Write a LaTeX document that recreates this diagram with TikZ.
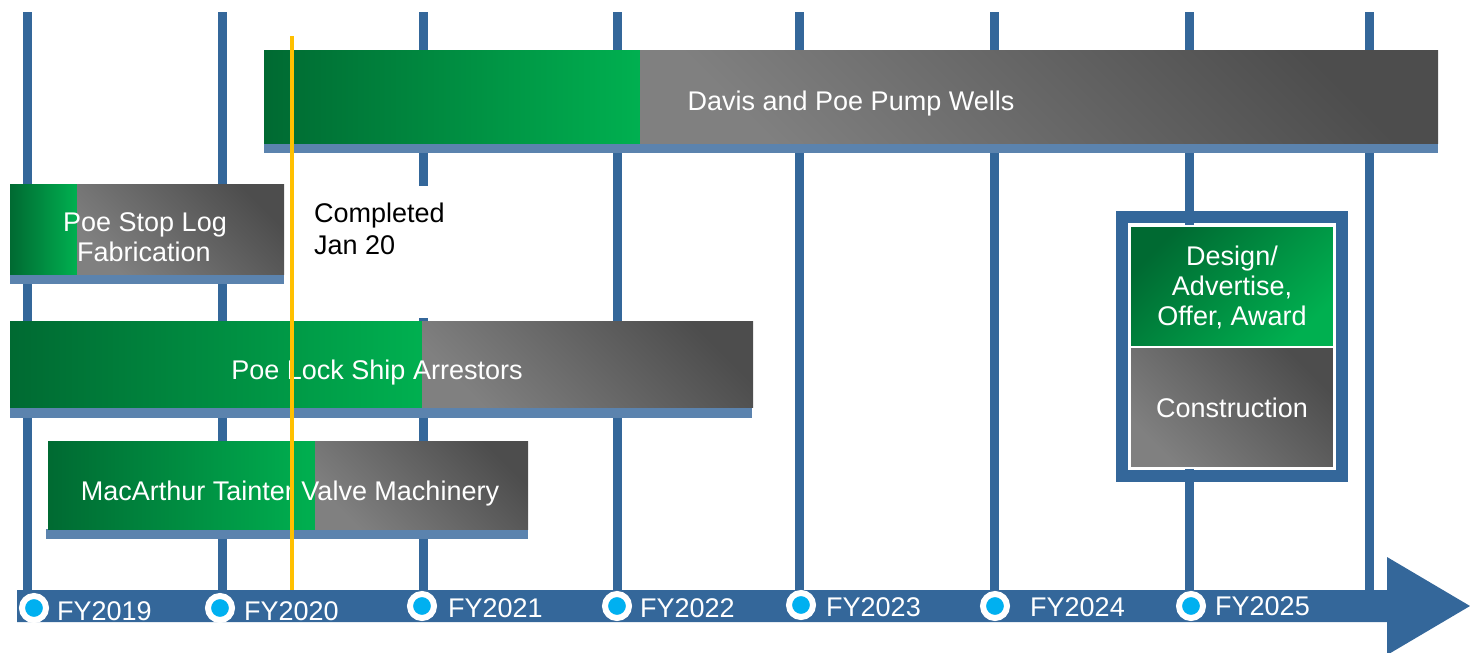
\documentclass[tikz,border=0pt]{standalone}
\usepackage{fontspec}
\setmainfont{Liberation Sans}
\definecolor{gridblue}{RGB}{52,103,154}
\definecolor{stripblue}{RGB}{91,131,174}
\definecolor{gdark}{RGB}{0,106,50}
\definecolor{gbright}{RGB}{0,176,80}
\definecolor{graylight}{RGB}{128,128,128}
\definecolor{graydark}{RGB}{77,77,77}
\definecolor{dotcyan}{RGB}{0,176,240}
\definecolor{markyellow}{RGB}{255,192,0}
\begin{document}
\begin{tikzpicture}[x=1pt,y=-1pt,
  gridline/.style={fill=gridblue},
  strip/.style={fill=stripblue},
  greenbar/.style={left color=gdark, right color=gbright},
  graybar/.style={top color=graydark, bottom color=graylight, shading angle=-45},
  greenbox/.style={top color=gdark, bottom color=gbright, shading angle=45, draw=white, line width=2},
  grayboxl/.style={top color=graydark, bottom color=graylight, shading angle=-45, draw=white, line width=2},
  lbl/.style={text=white, font=\fontsize{27}{30}\selectfont, inner sep=0pt, anchor=base},
  blk/.style={text=black, font=\fontsize{27}{30}\selectfont, inner sep=0pt, anchor=base west},
  fy/.style={text=white, font=\fontsize{27}{30}\selectfont, inner sep=0pt, anchor=base west},
  dot/.style={circle, fill=dotcyan, draw=white, line width=6, minimum size=24, inner sep=0pt}]
\useasboundingbox (0,0) rectangle (1470,653);
% vertical grid lines
\foreach \x in {27,222,423,617,799,994,1189,1369}
  \fill[gridline] (\x-4.5,12) rectangle (\x+4.5,592);
% white area behind note
\fill[white] (297,186) rectangle (465,318);
% Davis and Poe Pump Wells
\fill[strip] (264,143) rectangle (1438,153);
\shade[greenbar] (264,50) rectangle (640,143);
\shade[graybar] (640,50) rectangle (1438,143);
\node[lbl] (davis) at (851,110) {Davis and Poe Pump Wells};
% Poe Stop Log Fabrication
\fill[strip] (10,274) rectangle (284,284);
\shade[greenbar] (10,184) rectangle (77,274);
\shade[graybar] (77,184) rectangle (284,274);
\node[lbl] (stop1) at (145,231) {Poe Stop Log};
\node[lbl] (stop2) at (144,261) {Fabrication};
% Poe Lock Ship Arrestors
\fill[strip] (10,407) rectangle (752,418);
\shade[greenbar] (10,321) rectangle (422,407);
\shade[graybar] (422,321) rectangle (753,407);
\node[lbl] (lock) at (377,379) {Poe Lock Ship Arrestors};
% MacArthur Tainter Valve Machinery
\fill[strip] (46,529) rectangle (528,539);
\shade[greenbar] (48,441) rectangle (315,529);
\shade[graybar] (315,441) rectangle (528,529);
\node[lbl] (mac) at (290,500) {MacArthur Tainter Valve Machinery};
% Completed note
\node[blk] (comp1) at (314,222) {Completed};
\node[blk] (comp2) at (314,254) {Jan 20};
% legend box
\draw[gridblue, line width=12] (1122,217) rectangle (1342,476);
\shade[greenbox] (1130,226) rectangle (1334,347);
\shade[grayboxl] (1130,347) rectangle (1334,468);
\node[lbl] (leg1) at (1232,265) {Design/};
\node[lbl] (leg2) at (1232,295) {Advertise,};
\node[lbl] (leg3) at (1232,325) {Offer, Award};
\node[lbl] (leg4) at (1232,417) {Construction};
% axis arrow
\fill[gridblue] (17,590) -- (1387,590) -- (1387,557) -- (1470,606) -- (1387,655) -- (1387,622) -- (17,622) -- cycle;
\node[dot] (d19) at (34,608) {};
\node[dot] (d20) at (220,608) {};
\node[dot] (d21) at (422,606) {};
\node[dot] (d22) at (617,606) {};
\node[dot] (d23) at (801,605) {};
\node[dot] (d24) at (995,606) {};
\node[dot] (d25) at (1191,606) {};
\node[fy] (f19) at (57,620) {FY2019};
\node[fy] (f20) at (244,620) {FY2020};
\node[fy] (f21) at (448,617) {FY2021};
\node[fy] (f22) at (640,617) {FY2022};
\node[fy] (f23) at (826,616) {FY2023};
\node[fy] (f24) at (1030,616) {FY2024};
\node[fy] (f25) at (1215,615) {FY2025};
% today marker
\coordinate (ytop) at (292,36);
\coordinate (ybot) at (292,590);
\draw[markyellow, line width=4] (ytop) -- (ybot);
\end{tikzpicture}
\end{document}
